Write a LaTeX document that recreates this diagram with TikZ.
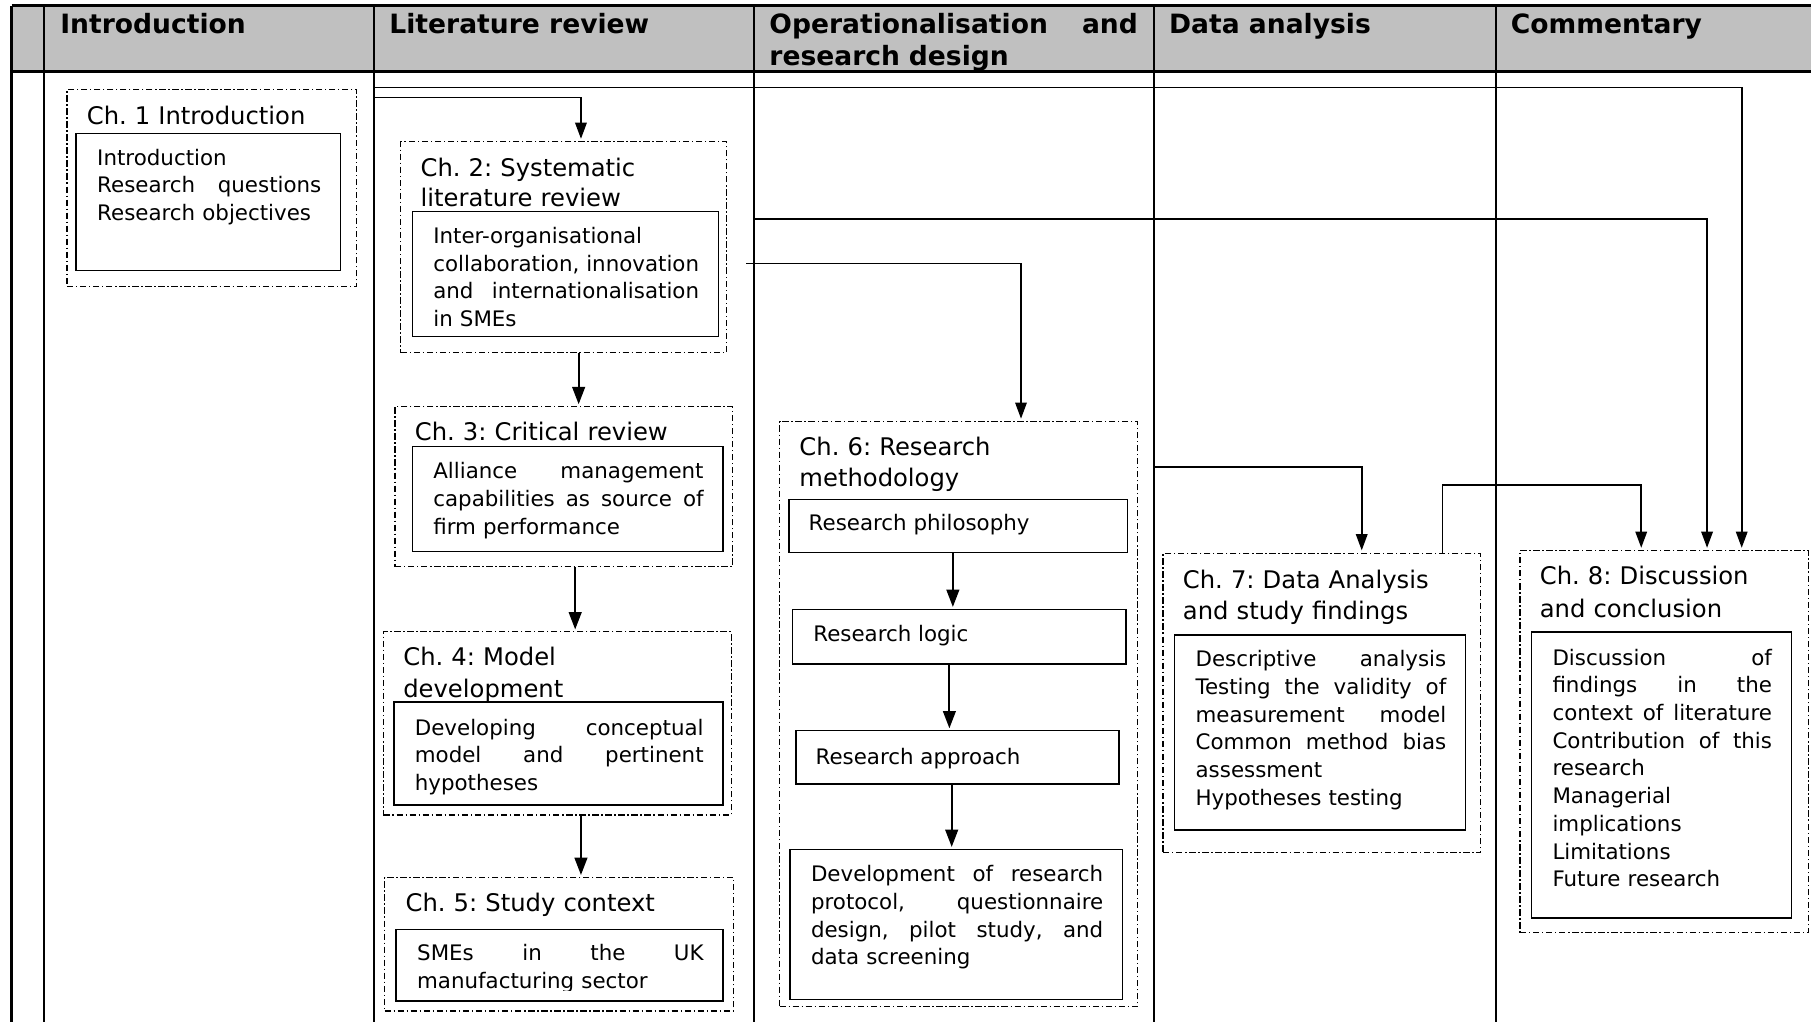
\documentclass[tikz,border=0pt]{standalone}
\usepackage{fontspec}
\setmainfont{DejaVu Sans}
\usetikzlibrary{arrows.meta}
\newcommand{\jl}[2]{\leavevmode\makebox[#1][l]{#2}}
\newcommand{\bx}[6]{\node[#1, anchor=north west, minimum width={#5pt-#3pt}, minimum height={#6pt-#4pt}] (#2) at (#3,#4) {};}
\definecolor{hdrgray}{HTML}{C0C0C0}
\tikzset{
  gridline/.style={line width=2pt},
  hdrline/.style={line width=2.6pt},
  outerbox/.style={draw, rectangle, inner sep=0pt, outer sep=0pt, line width=1pt, dash pattern=on 5.5pt off 2.3pt on 1.2pt off 2.3pt},
  innerbox/.style={draw, rectangle, inner sep=0pt, outer sep=0pt, line width=1.3pt},
  bodytxt/.style={anchor=base west, inner sep=0pt, align=left, font=\frenchspacing\fontsize{18.5}{24}\selectfont},
  ttltxt/.style={anchor=base west, inner sep=0pt, align=left, text width=300pt, font=\frenchspacing\fontsize{21}{25}\selectfont},
  hdrtxt/.style={anchor=base west, inner sep=0pt, align=left, font=\bfseries\fontsize{23}{27.6}\selectfont},
  arr/.style={line width=1.4pt, shorten >=2.5pt, -{Triangle[length=14pt,width=10pt]}},
  arrb/.style={line width=1.8pt, shorten >=2pt, -{Triangle[length=15pt,width=11pt]}},
}
\begin{document}
\frenchspacing
\begin{tikzpicture}[x=1pt,y=-1pt]
\useasboundingbox (0,0) rectangle (1568,885);
% header
\fill[hdrgray] (10,5) rectangle (1568,62);
\draw[hdrline] (10,5) -- (1568,5);
\draw[hdrline] (10,62) -- (1568,62);
\foreach \xx in {10,38,324,653,999,1295} {\draw[gridline] (\xx,5) -- (\xx,885);}
\node[hdrtxt] (h1) at (52,29.2) {Introduction};
\node[hdrtxt] (h2) at (337,29.2) {Literature review};
\node[hdrtxt, text width=319pt] (h3) at (666,29.2) {\jl{319pt}{Operationalisation\hfill and}\\research design};
\node[hdrtxt] (h4) at (1012,29.2) {Data analysis};
\node[hdrtxt] (h5) at (1308,29.2) {Commentary};

% boxes
\bx{outerbox}{c1}{58}{77.3}{309}{248.2}
\bx{innerbox}{i1}{66}{115.4}{295}{234.4}
\bx{outerbox}{c2}{347}{122.7}{629}{305.4}
\bx{innerbox}{i2}{357}{183.3}{622}{291.5}
\bx{outerbox}{c3}{342}{352}{634}{490.6}
\bx{innerbox}{i3}{357}{386.7}{626}{477.6}
\bx{outerbox}{c4}{332}{547}{633}{705.6}
\bx{innerbox}{i4}{341}{608}{626}{697}
\bx{outerbox}{c5}{333}{759.6}{635}{875.3}
\bx{innerbox}{i5}{343}{804.6}{626}{866.7}
\bx{outerbox}{c6}{675}{365}{985}{871.6}
\bx{innerbox}{p1}{683}{432.3}{976}{478.2}
\bx{innerbox}{p2}{686}{527.5}{975}{575}
\bx{innerbox}{p3}{689}{632.6}{969}{679}
\bx{innerbox}{p4}{684}{735.3}{972}{865.2}
\bx{outerbox}{c7}{1007}{479}{1282}{738.3}
\bx{innerbox}{i7}{1017}{549.8}{1269}{718.6}
\bx{outerbox}{c8}{1316}{476.8}{1566}{807.5}
\bx{innerbox}{i8}{1326}{547}{1551}{795}

% titles
\node[ttltxt] (t1) at (75,107.5) {Ch. 1 Introduction};
\node[ttltxt] (t2) at (364,153) {Ch. 2: Systematic\\[0.5pt]literature review};
\node[ttltxt] (t3) at (359,381) {Ch. 3: Critical review};
\node[ttltxt] (t4) at (349,576.6) {Ch. 4: Model\\[2pt]development};
\node[ttltxt] (t5) at (351,789.3) {Ch. 5: Study context};
\node[ttltxt] (t6) at (692,394.8) {Ch. 6: Research\\[1pt]methodology};
\node[ttltxt] (t7) at (1024,509.4) {Ch. 7: Data Analysis\\[1.6pt]and study findings};
\node[ttltxt] (t8) at (1333,506.5) {Ch. 8: Discussion\\[3pt]and conclusion};

% body texts
\node[bodytxt, text width=194pt] (b1) at (84,143) {Introduction\\\jl{194pt}{Research\hfill questions}\\Research objectives};
\node[bodytxt, text width=230pt] (b2) at (375,210.7) {Inter-organisational\\\jl{230pt}{collaboration,\hfill innovation}\\\jl{230pt}{and\hfill internationalisation}\\in SMEs};
\node[bodytxt, text width=234pt] (b3) at (375,414.6) {\jl{234pt}{Alliance\hfill management}\\\jl{234pt}{capabilities\hfill as\hfill source\hfill of}\\firm performance};
\node[bodytxt, text width=250pt] (b4) at (359,636.4) {\jl{250pt}{Developing\hfill conceptual}\\\jl{250pt}{model\hfill and\hfill pertinent}\\hypotheses};
\begin{scope}
\clip (343,804.6) rectangle (626,857.2);
\node[bodytxt, text width=248pt] (b5) at (361,831.8) {\jl{248pt}{SMEs\hfill in\hfill the\hfill UK}\\manufacturing sector};
\end{scope}
\node[bodytxt] (r1) at (700,459.5) {Research philosophy};
\node[bodytxt] (r2) at (704,555.5) {Research logic};
\node[bodytxt] (r3) at (706,661.5) {Research approach};
\node[bodytxt, text width=253pt] (b6) at (702,763.3) {\jl{253pt}{Development\hfill of\hfill research}\\\jl{253pt}{protocol,\hfill questionnaire}\\\jl{253pt}{design,\hfill pilot\hfill study,\hfill and}\\data screening};
\node[bodytxt, text width=217pt] (b7) at (1035,577.2) {\jl{217pt}{Descriptive\hfill analysis}\\\jl{217pt}{Testing\hfill the\hfill validity\hfill of}\\\jl{217pt}{measurement\hfill model}\\\jl{217pt}{Common\hfill method\hfill bias}\\assessment\\Hypotheses testing};
\node[bodytxt, text width=190pt] (b8) at (1344,575.8) {\jl{190pt}{Discussion\hfill of}\\\jl{190pt}{findings\hfill in\hfill the}\\\jl{190pt}{context\hfill of\hfill literature}\\\jl{190pt}{Contribution\hfill of\hfill this}\\research\\Managerial\\implications\\Limitations\\Future research};

% connectors
\coordinate (s1) at (324,75.6);
\coordinate (s2) at (324,84.3);
\coordinate (s3) at (653,189.6);
\coordinate (s4) at (646,228);
\coordinate (s5) at (999,404.6);
\coordinate (k1) at (1249,420);
\draw[arr] (s1) -| (c8.north -| 1508,0);
\draw[arr] (s2) -| (c2.north -| 503,0);
\draw[arr] (s3) -| (c8.north -| 1478,0);
\draw[arr] (s4) -| (c6.north -| 884,0);
\draw[arr] (s5) -| (c7.north -| 1179,0);
\draw[arr] (c7.north -| 1249,0) -- (k1) -| (c8.north -| 1421,0);
\draw[arrb] (c2.south -| 501,0) -- (c3.north -| 501,0);
\draw[arrb] (c3.south -| 498,0) -- (c4.north -| 498,0);
\draw[arrb] (c4.south -| 503,0) -- (c5.north -| 503,0);
\draw[arrb] (p1.south -| 825,0) -- (p2.north -| 825,0);
\draw[arrb] (p2.south -| 822,0) -- (p3.north -| 822,0);
\draw[arrb] (p3.south -| 824,0) -- (p4.north -| 824,0);
\end{tikzpicture}
\end{document}
